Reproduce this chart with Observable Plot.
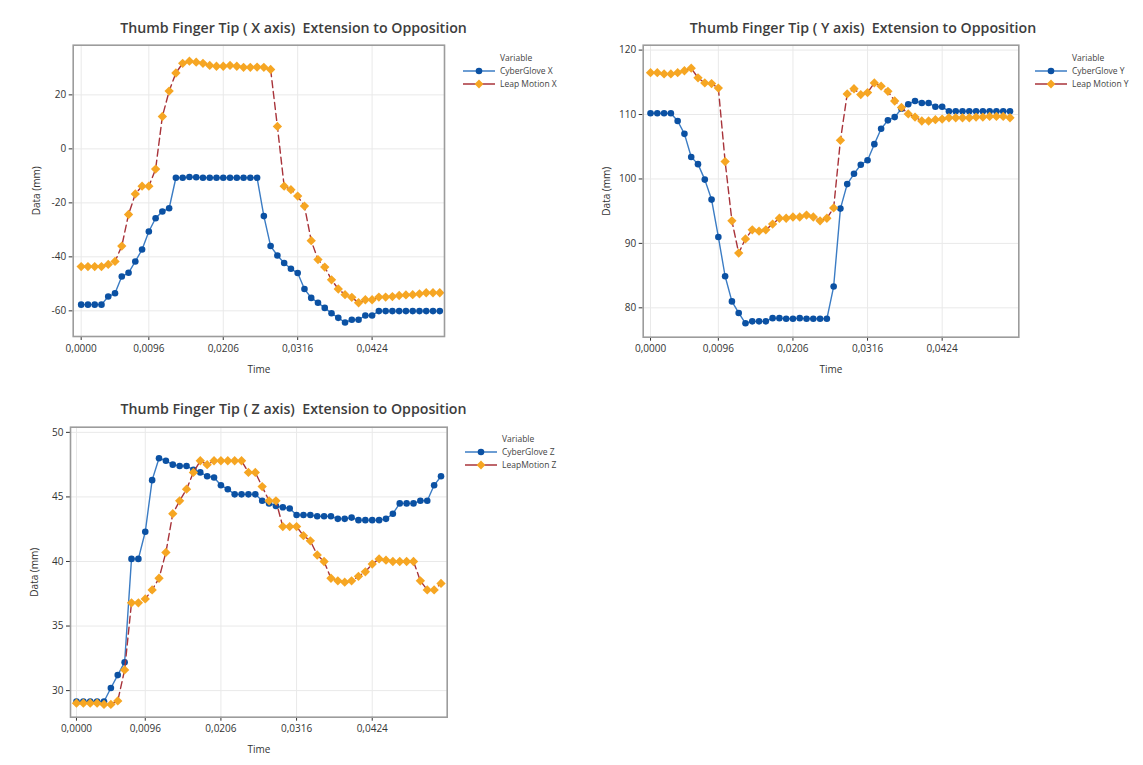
<!DOCTYPE html>
<html><head><meta charset="utf-8">
<script src="https://cdn.jsdelivr.net/npm/d3@7"></script>
<script src="https://cdn.jsdelivr.net/npm/@observablehq/plot@0.6"></script>
<style>
body{margin:0;background:#fff;}
#root{position:relative;width:1143px;height:765px;font-family:"Open Sans",sans-serif;overflow:hidden;background:#fff}
.panel{position:absolute}
.title{position:absolute;font-size:14.2px;font-weight:600;color:#3d3d3d;white-space:pre;transform:translate(-50%,-50%)}
.legend{position:absolute;font-size:8.5px;color:#444;line-height:13px}
.legend .row{display:flex;align-items:center;height:13px}
.legend svg{margin-right:5px}
.legend .hdr{padding-left:37px}
</style></head><body><div id="root"></div>
<script>
// sample index positions of the time ticks and their labels
const tickIdx = [0, 10, 21, 32, 43];
const tickLabels = ["0,0000", "0,0096", "0,0206", "0,0316", "0,0424"];

const cyberGloveX = [-57.7,-57.7,-57.7,-57.7,-54.7,-53.5,-47.3,-45.9,-41.7,-37.3,-30.6,-25.7,-23.2,-22.0,-10.7,-10.7,-10.4,-10.5,-10.7,-10.7,-10.7,-10.7,-10.7,-10.7,-10.7,-10.7,-10.7,-24.9,-36.0,-39.5,-42.3,-44.4,-46.0,-51.9,-55.2,-57.0,-58.9,-60.9,-62.6,-64.3,-63.3,-63.3,-61.7,-61.7,-60.1,-60.1,-60.1,-60.1,-60.1,-60.1,-60.1,-60.1,-60.1,-60.1];
const leapMotionX = [-43.6,-43.6,-43.6,-43.6,-42.8,-41.7,-36.0,-24.3,-16.7,-13.8,-13.8,-7.5,12.0,21.4,28.1,31.7,32.5,32.1,31.7,30.9,30.6,30.6,30.9,30.6,30.2,30.2,30.3,30.2,29.4,8.3,-13.8,-15.1,-17.5,-21.2,-34.0,-41.0,-43.8,-48.5,-51.9,-54.0,-55.0,-57.0,-55.9,-55.9,-54.9,-54.9,-54.7,-54.3,-54.1,-54.0,-53.7,-53.3,-53.3,-53.3];

const cyberGloveY = [110.2,110.2,110.2,110.2,109.0,107.0,103.4,102.3,99.9,96.8,91.0,84.9,81.0,79.2,77.6,77.9,77.9,77.9,78.4,78.4,78.3,78.3,78.4,78.3,78.3,78.3,78.3,83.3,95.4,99.2,100.8,102.2,102.9,105.4,107.8,109.1,109.6,110.9,111.6,112.1,111.8,111.8,111.2,111.2,110.5,110.5,110.5,110.5,110.5,110.5,110.5,110.5,110.5,110.5];
const leapMotionY = [116.5,116.5,116.3,116.3,116.5,116.8,117.2,115.7,114.9,114.8,114.1,102.7,93.5,88.5,90.7,92.1,91.9,92.1,93.0,93.9,93.9,94.1,94.1,94.4,94.1,93.5,93.9,95.5,106.0,113.2,114.0,113.1,113.4,114.9,114.4,113.6,112.1,111.1,110.1,109.6,109.0,109.0,109.2,109.3,109.5,109.5,109.5,109.5,109.6,109.6,109.7,109.7,109.7,109.5];

const cyberGloveZ = [29.16,29.16,29.16,29.16,29.16,30.2,31.2,32.2,40.2,40.2,42.3,46.3,48.0,47.8,47.5,47.4,47.4,47.1,46.9,46.6,46.5,45.9,45.6,45.2,45.2,45.2,45.2,44.7,44.5,44.3,44.2,44.1,43.6,43.6,43.6,43.5,43.5,43.5,43.3,43.3,43.4,43.2,43.2,43.2,43.2,43.3,43.7,44.5,44.5,44.5,44.7,44.7,45.9,46.6];
const leapMotionZ = [29.03,29.03,29.03,29.03,28.93,28.93,29.2,31.6,36.8,36.8,37.1,37.8,38.7,40.7,43.7,44.7,45.6,46.9,47.8,47.5,47.8,47.8,47.8,47.8,47.8,46.9,46.9,45.8,44.7,44.7,42.7,42.7,42.7,42.0,41.6,40.5,40.0,38.7,38.5,38.4,38.5,38.85,39.2,39.8,40.2,40.1,40.0,40.0,40.0,40.0,38.5,37.8,37.8,38.3];

const titles = ["Thumb Finger Tip ( X axis)  Extension to Opposition","Thumb Finger Tip ( Y axis)  Extension to Opposition","Thumb Finger Tip ( Z axis)  Extension to Opposition"];
const legendNames = [["CyberGlove X","Leap Motion X"],["CyberGlove Y","Leap Motion Y"],["CyberGlove Z","LeapMotion Z"]];
const yTicks = [[-60,-40,-20,0,20],[80,90,100,110,120],[30,35,40,45,50]];

const BLUE_DOT = "#0b51a3", BLUE_LINE = "#3b7cc4", ORANGE = "#f6a623", RED = "#a8333a";

const panels = [
  {left:0, top:0, width:450, height:385, ml:72.7, mr:6, mt:44.7, mb:49, xd:[-1.18,53.7], yd:[-69.5,38.4], a:cyberGloveX, b:leapMotionX, title:titles[0], tx:293.5, ty:27, names:legendNames[0], yt:yTicks[0], lx:463, ly:51},
  {left:570, top:0, width:455, height:385, ml:72.7, mr:6.7, mt:44.7, mb:48.3, xd:[-1.08,54.3], yd:[75.44,120.76], a:cyberGloveY, b:leapMotionY, title:titles[1], tx:863, ty:27, names:legendNames[1], yt:yTicks[1], lx:1035, ly:51},
  {left:0, top:380, width:450, height:385, ml:70, mr:3.3, mt:46.7, mb:48.3, xd:[-0.87,53.9], yd:[27.94,50.4], a:cyberGloveZ, b:leapMotionZ, title:titles[2], tx:293.5, ty:408, names:legendNames[2], yt:yTicks[2], lx:465, ly:432}
];

const root = document.getElementById("root");

panels.forEach(p => {
  const X = (d, i) => i;
  const Y = d => d;
  const chart = Plot.plot({
    width: p.width, height: p.height,
    marginLeft: p.ml, marginRight: p.mr, marginTop: p.mt, marginBottom: p.mb,
    style: {fontFamily: "Open Sans, sans-serif", fontSize: "10px", color: "#333", background: "transparent", overflow: "visible"},
    x: {domain: p.xd, ticks: tickIdx, tickFormat: d => tickLabels[tickIdx.indexOf(d)], tickSize: 4, tickPadding: 4, label: "Time", labelAnchor: "center", labelArrow: "none", labelOffset: 36},
    y: {domain: p.yd, ticks: p.yt, tickFormat: d => String(d), tickSize: 4, tickPadding: 3, label: "Data (mm)", labelAnchor: "center", labelArrow: "none", labelOffset: 40},
    marks: [
      Plot.gridX(tickIdx, {stroke: "#e9e9e9", strokeOpacity: 1}),
      Plot.gridY(p.yt, {stroke: "#e9e9e9", strokeOpacity: 1}),
      Plot.line(p.a, {x: X, y: Y, stroke: BLUE_LINE, strokeWidth: 1.4}),
      Plot.dot(p.a, {x: X, y: Y, fill: BLUE_DOT, r: 3.3}),
      Plot.line(p.b, {x: X, y: Y, stroke: RED, strokeWidth: 1.4, strokeDasharray: "7,4"}),
      Plot.dot(p.b, {x: X, y: Y, fill: ORANGE, symbol: "diamond2", r: 4.2}),
      Plot.frame({stroke: "#9c9c9c", strokeWidth: 1.6})
    ]
  });
  const wrap = document.createElement("div");
  wrap.className = "panel";
  wrap.style.left = p.left + "px"; wrap.style.top = p.top + "px";
  wrap.appendChild(chart);
  root.appendChild(wrap);

  const t = document.createElement("div");
  t.className = "title"; t.textContent = p.title;
  t.style.left = p.tx + "px"; t.style.top = p.ty + "px";
  root.appendChild(t);

  const lg = document.createElement("div");
  lg.className = "legend";
  lg.style.left = p.lx + "px"; lg.style.top = p.ly + "px";
  const hdr = document.createElement("div"); hdr.className = "hdr"; hdr.textContent = "Variable";
  lg.appendChild(hdr);
  p.names.forEach((n, k) => {
    const row = document.createElement("div"); row.className = "row";
    const ns = "http://www.w3.org/2000/svg";
    const s = document.createElementNS(ns, "svg");
    s.setAttribute("width", 32); s.setAttribute("height", 10);
    const ln = document.createElementNS(ns, "line");
    ln.setAttribute("x1", 0); ln.setAttribute("x2", 32); ln.setAttribute("y1", 5); ln.setAttribute("y2", 5);
    ln.setAttribute("stroke", k === 0 ? BLUE_LINE : RED); ln.setAttribute("stroke-width", 1.5);
    s.appendChild(ln);
    if (k === 0) {
      const c = document.createElementNS(ns, "circle");
      c.setAttribute("cx", 16); c.setAttribute("cy", 5); c.setAttribute("r", 3.3); c.setAttribute("fill", BLUE_DOT);
      s.appendChild(c);
    } else {
      const r = document.createElementNS(ns, "path");
      r.setAttribute("d", "M16,0.6L20.4,5L16,9.4L11.6,5Z"); r.setAttribute("fill", ORANGE);
      s.appendChild(r);
    }
    row.appendChild(s);
    const sp = document.createElement("span"); sp.textContent = n;
    row.appendChild(sp);
    lg.appendChild(row);
  });
  root.appendChild(lg);
});
</script></body></html>
